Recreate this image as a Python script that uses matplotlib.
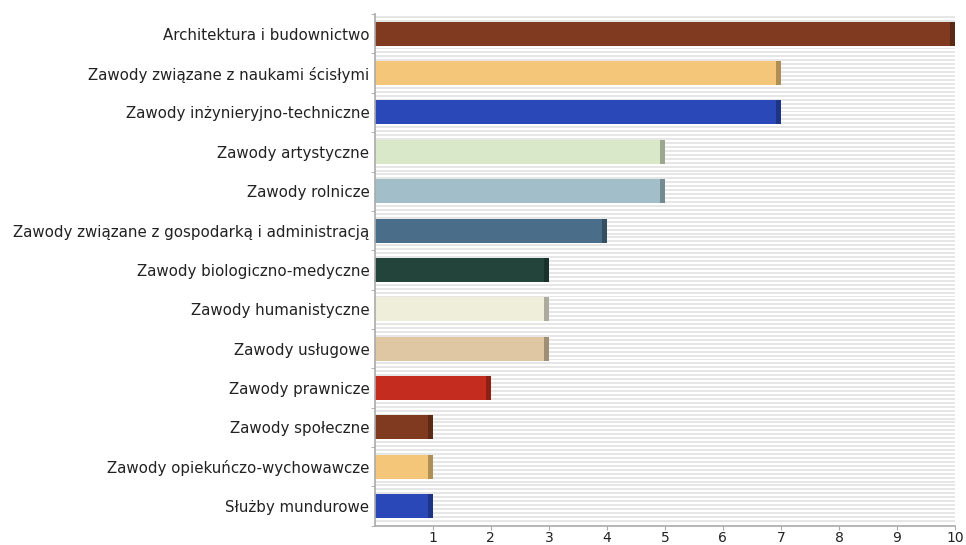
import numpy as np
import matplotlib.pyplot as plt
import matplotlib.colors as mcolors

categories = [
    "Architektura i budownictwo",
    "Zawody związane z naukami ścisłymi",
    "Zawody inżynieryjno-techniczne",
    "Zawody artystyczne",
    "Zawody rolnicze",
    "Zawody związane z gospodarką i administracją",
    "Zawody biologiczno-medyczne",
    "Zawody humanistyczne",
    "Zawody usługowe",
    "Zawody prawnicze",
    "Zawody społeczne",
    "Zawody opiekuńczo-wychowawcze",
    "Służby mundurowe",
]
values = [10, 7, 7, 5, 5, 4, 3, 3, 3, 2, 1, 1, 1]
colors = ["#7f3a1f", "#f4c679", "#2a48b8", "#d9e8c8", "#a2bec8", "#4a6e8a",
          "#22443a", "#efeedb", "#e0c7a3", "#c42c1f", "#7f3a1f", "#f4c679", "#2a48b8"]
xticks = [1, 2, 3, 4, 5, 6, 7, 8, 9, 10]


def darker(c, f=0.72):
    r, g, b = mcolors.to_rgb(c)
    return (r * f, g * f, b * f)


fig = plt.figure(figsize=(9.66, 5.45), dpi=100)
ax = fig.add_axes([0.388, 0.0352, 0.6006, 0.939])

ypos = np.arange(len(categories))
ax.set_xlim(0, 10)
ax.set_ylim(len(categories) - 0.55, -0.45)

# striped background
y0, y1 = ax.get_ylim()
for y in np.arange(y1, y0, 0.1):
    ax.axhspan(y, y + 0.05, color="#e6e6e6", lw=0, zorder=0)

cap = 0.09
ax.barh(ypos, values, height=0.61, color=colors, edgecolor="none", zorder=2)
ax.barh(ypos, [cap] * len(values), left=[v - cap for v in values], height=0.61,
        color=[darker(c) for c in colors], edgecolor="none", zorder=3)

ax.set_yticks(ypos)
ax.set_yticklabels(categories, fontsize=10.8, color="#222222")
ax.set_yticks(np.arange(-0.5, len(categories), 1), minor=True)
ax.tick_params(axis="y", which="major", length=0, pad=4)
ax.tick_params(axis="y", which="minor", length=3, color="#aaaaaa")

ax.set_xticks(xticks)
ax.set_xticklabels([str(t) for t in xticks], fontsize=10, color="#222222")
ax.tick_params(axis="x", length=3, color="#aaaaaa", pad=1)

for s in ["top", "right"]:
    ax.spines[s].set_visible(False)
for s in ["left", "bottom"]:
    ax.spines[s].set_color("#aaaaaa")
    ax.spines[s].set_linewidth(1.2)

fig.savefig("out.png", dpi=100)
